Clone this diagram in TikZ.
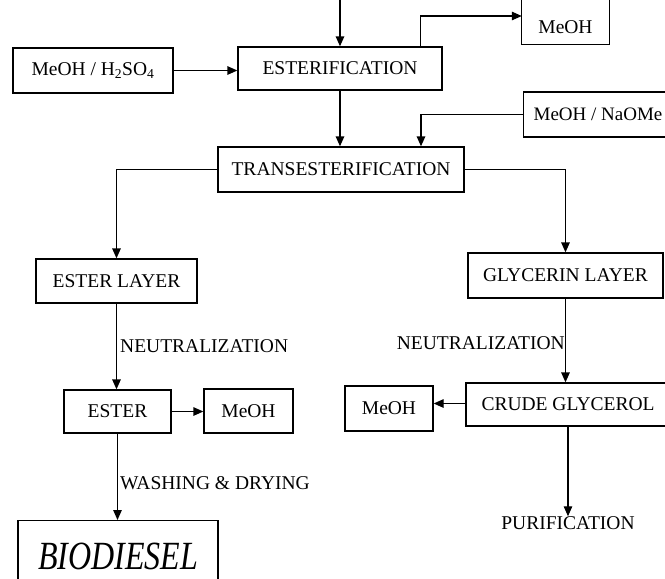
\documentclass[tikz,border=0pt]{standalone}
\usepackage{fontspec}
\setmainfont{Liberation Serif}
\usetikzlibrary{arrows.meta}
\begin{document}
\begin{tikzpicture}[x=1pt,y=-1pt,
  every node/.style={font=\fontsize{19.5}{22}\selectfont, inner sep=0pt},
  box/.style={draw, line width=1.3pt, minimum height=44pt},
  lbl/.style={draw=none},
  arr/.style={line width=1.3pt, -{Triangle[length=10pt,width=8.5pt]}},
  conn/.style={line width=1.3pt}]
\useasboundingbox (0,0) rectangle (665,579);
\clip (0,0) rectangle (665,579);
% nodes
\node[box, minimum width=160pt, minimum height=45pt] (h2so4) at (93,70.5) {MeOH / H\textsubscript{2}SO\textsubscript{4}};
\node[box, minimum width=204pt, minimum height=43pt] (ester) at (340,68.5) {ESTERIFICATION};
\node[minimum width=87pt, minimum height=34pt] (meohtop) at (565.5,27) {MeOH};
\node[box, anchor=west, minimum height=45pt, inner xsep=10pt, font=\fontsize{19}{22}\selectfont] (naome) at (523,114.5) {MeOH / NaOMe};
\node[box, minimum width=246pt, minimum height=45pt] (trans) at (341,169.5) {TRANSESTERIFICATION};
\node[box, minimum width=161pt, minimum height=44pt] (esterlayer) at (116.5,281) {ESTER LAYER};
\node[box, minimum width=195pt, minimum height=45pt] (glycerin) at (565.5,275.5) {GLYCERIN LAYER};
\node[box, minimum width=107pt, minimum height=43pt] (esterbox) at (117.5,411.5) {ESTER};
\node[box, minimum width=89pt, minimum height=44pt] (meohb) at (248.5,411) {MeOH};
\node[box, minimum width=204pt, minimum height=43pt] (crude) at (568,404.5) {CRUDE GLYCEROL};
\node[box, minimum width=88pt, minimum height=45pt] (meohc) at (389,408.5) {MeOH};
\node[draw, line width=1.3pt, anchor=north, minimum width=200pt, inner ysep=22pt,
      text height=26.5pt, text depth=40pt, font=\fontsize{40}{44}\selectfont\itshape] (bio) at (118,520) {\scalebox{0.8}[1]{BIODIESEL}};
\node[lbl] (purif) at (568,523) {PURIFICATION};
\node[lbl, anchor=west] (neutl) at (120,346) {NEUTRALIZATION};
\node[lbl, anchor=east] (neutr) at (565,343) {NEUTRALIZATION};
\node[lbl, anchor=west] (wash) at (120,483) {WASHING \& DRYING};
\coordinate (topin) at (340,-2);
\coordinate (crudeout) at ([yshift=1pt]crude.west);
% partial box (top cut off)
\draw[conn] ([yshift=14pt]meohtop.north west) -- (meohtop.south west) -- (meohtop.south east) -- ([yshift=14pt]meohtop.north east);
% connectors
\draw[arr] (topin) -- (ester.north);
\draw[arr] (h2so4.east) -- (h2so4.east -| ester.west);
\draw[arr] ([xshift=-22pt]ester.north east) |- ([yshift=11pt]meohtop.west);
\draw[arr] (ester.south) -- (ester.south |- trans.north);
\draw[arr] (naome.west) -| ([xshift=80pt]trans.north);
\draw[arr] (trans.west) -| (esterlayer.north);
\draw[arr] (trans.east) -| (glycerin.north);
\draw[arr] (esterlayer.south) -- (esterlayer.south |- esterbox.north);
\draw[arr] (esterbox.east) -- (esterbox.east -| meohb.west);
\draw[arr] (esterbox.south) -- (esterbox.south |- bio.north);
\draw[arr] (glycerin.south) -- (glycerin.south |- crude.north);
\draw[arr] (crudeout) -- (meohc.east |- crudeout);
\draw[arr] (crude.south) -- (crude.south |- purif.north);
\end{tikzpicture}
\end{document}
